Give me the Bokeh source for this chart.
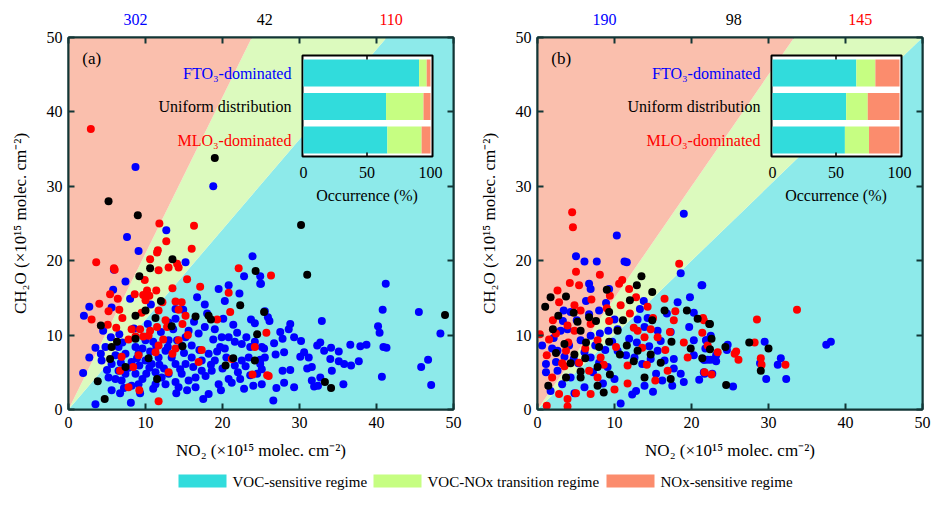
from bokeh.plotting import figure
from bokeh.models import Range1d, LinearAxis, FixedTicker
from bokeh.layouts import column, row
from bokeh.embed import file_html
from bokeh.resources import INLINE
from bokeh.core.properties import value

FONT = "Liberation Serif"

# ---------------- data : panel (a) ----------------
a_blue_x = [7.6, 9.1, 12.7, 5.9, 7.4, 5.8, 5.6, 2.7, 2.0, 8.0, 10.7, 15.2, 16.7, 17.7, 19.5, 20.8, 20.3, 22.2, 22.8, 23.9,
            24.9, 25.0, 25.5, 23.7, 21.4, 13.9, 14.9, 13.9, 13.0, 15.6, 16.9, 17.7, 18.8, 19.9, 20.8, 19.7, 20.3, 21.6, 22.5, 23.6,
            25.1, 25.5, 23.4, 22.5, 21.6, 20.8, 22.3, 23.6, 25.1, 24.0, 19.5, 18.6, 17.3, 16.5, 15.6, 14.7, 13.9, 13.0, 12.1, 11.3,
            10.8, 11.7, 12.6, 13.0, 14.1, 14.7, 16.0, 16.0, 17.3, 18.2, 19.0, 15.2, 13.9, 10.0, 9.1, 8.2, 7.4, 6.5, 6.1, 5.6,
            6.5, 7.4, 8.7, 9.1, 8.2, 6.9, 5.2, 4.3, 3.5, 4.8, 2.7, 1.9, 5.6, 6.7, 3.5, 8.1, 17.5, 18.2, 10.0, 11.0,
            4.5, 5.5, 6.6, 8.7, 9.2, 10.1, 11.3, 12.6, 14.3, 16.5, 24.2, 24.2, 24.9, 25.1, 8.7, 18.8,
            24.9, 41.2, 40.8, 45.5, 32.9, 40.2, 40.4, 48.3, 25.9, 26.1, 28.8, 28.6, 27.5, 27.8, 26.7, 29.3, 30.2, 32.7, 32.3, 33.2,
            34.1, 35.1, 36.6, 37.9, 38.7, 40.9, 41.3, 30.6, 31.2, 30.1, 28.0, 26.9, 25.4, 24.9, 34.0, 35.1, 35.8, 36.7, 37.7, 31.0,
            31.6, 34.2, 32.7, 31.6, 31.9, 32.4, 35.7, 29.3, 28.0, 27.0, 26.6, 27.8, 28.8, 40.7, 45.8, 46.7, 47.1,
            7.0, 7.8, 8.9, 9.6, 10.5, 11.8, 12.4, 13.4, 14.5, 15.0, 16.2, 17.0, 17.8, 18.5, 19.3, 20.0, 20.5, 21.2, 22.0, 23.0,
            24.5, 12.0, 13.6, 15.2, 16.3, 18.0, 19.0, 20.1, 21.9, 23.1, 9.6, 10.6, 11.4, 6.1, 7.2, 5.0, 4.2, 8.5, 10.3, 14.0,
            15.4, 19.8, 22.8, 6.8, 12.9, 11.0, 9.3]
a_blue_y = [23.2, 21.3, 24.1, 18.8, 17.2, 16.1, 13.7, 13.8, 12.6, 14.9, 14.1, 19.8, 15.1, 14.1, 16.2, 16.7, 14.6, 15.6, 17.9, 20.6,
            17.9, 16.9, 13.2, 12.1, 11.4, 13.5, 13.4, 12.2, 11.7, 10.6, 10.2, 11.1, 9.4, 9.7, 9.7, 8.4, 8.2, 9.1, 8.8, 8.4,
            8.4, 7.0, 7.0, 6.6, 5.9, 4.1, 4.1, 4.6, 3.4, 3.2, 3.4, 5.2, 5.2, 4.3, 3.9, 4.8, 3.7, 4.8, 4.3, 5.0,
            6.1, 7.0, 7.9, 9.3, 9.3, 8.6, 8.6, 7.0, 6.6, 7.5, 6.6, 6.1, 6.1, 6.6, 7.5, 6.4, 7.5, 8.4, 7.3, 6.1,
            5.2, 4.8, 4.8, 3.4, 3.2, 3.9, 4.3, 6.6, 8.3, 8.4, 7.0, 4.9, 2.6, 2.2, 0.7, 0.9, 1.4, 2.1, 9.3, 9.1,
            10.6, 9.7, 10.1, 8.4, 5.9, 4.8, 3.4, 3.4, 3.0, 3.0, 11.6, 9.1, 6.7, 5.4, 32.6, 30.0,
            16.9, 16.9, 13.4, 13.1, 11.9, 11.2, 10.3, 10.2, 12.4, 11.9, 11.5, 10.8, 10.4, 9.5, 8.9, 9.7, 9.2, 9.0, 8.6, 7.9,
            8.3, 7.8, 8.7, 8.5, 8.7, 8.4, 8.3, 7.7, 7.0, 7.1, 7.7, 7.4, 8.2, 6.1, 6.8, 6.5, 6.1, 5.9, 6.5, 5.5,
            5.7, 5.2, 4.3, 3.9, 3.1, 3.2, 3.4, 3.0, 3.6, 2.9, 1.2, 5.2, 5.3, 4.4, 5.7, 6.7, 3.3,
            9.0, 5.6, 6.9, 4.1, 5.6, 6.0, 5.5, 7.0, 5.4, 7.6, 5.7, 8.0, 4.5, 6.0, 7.8, 5.5, 7.0, 3.6, 5.0, 5.8,
            4.8, 10.4, 10.8, 9.7, 11.8, 12.9, 10.8, 12.2, 10.3, 9.7, 8.2, 7.8, 8.5, 4.1, 2.9, 5.3, 7.5, 10.9, 11.5, 2.2,
            2.6, 2.6, 2.8, 6.3, 8.4, 2.8, 2.2]
a_red_x = [2.9, 3.6, 11.8, 16.3, 12.7, 16.0, 11.5, 5.9, 10.6, 14.1, 22.1, 26.3, 6.0, 9.9, 11.6, 13.0, 11.7, 14.3, 15.4, 13.5,
           11.4, 10.2, 9.7, 8.6, 5.4, 6.4, 6.6, 5.2, 3.0, 5.1, 10.0, 11.7, 13.9, 14.7, 14.3, 15.2, 17.1, 12.6, 12.8, 11.5,
           10.6, 9.3, 8.2, 8.7, 7.8, 9.7, 10.4, 12.3, 14.3, 19.3, 20.8, 17.3, 13.9, 13.5, 11.7, 11.3, 9.1, 6.9, 6.7, 8.4,
           7.8, 9.2, 11.7, 13.0, 16.9, 21.2, 24.2, 23.9, 25.8, 21.0, 25.7, 26.0, 10.5, 9.5, 12.2, 14.8, 15.5, 4.0, 7.0, 6.2]
a_red_y = [37.7, 19.8, 25.0, 24.7, 22.6, 21.6, 21.1, 19.0, 20.2, 19.6, 19.0, 18.0, 18.8, 17.4, 21.4, 19.1, 18.7, 19.1, 17.5, 16.3,
           16.0, 16.0, 15.4, 15.5, 15.5, 14.9, 13.4, 13.2, 12.1, 11.4, 14.7, 13.3, 14.5, 14.4, 13.4, 12.6, 16.5, 12.0, 11.1, 11.1,
           10.6, 10.8, 10.8, 9.8, 9.4, 9.8, 9.9, 9.4, 9.3, 12.1, 15.7, 8.0, 8.2, 7.5, 8.6, 7.7, 7.3, 7.1, 5.2, 5.7,
           3.0, 2.6, 1.1, 5.0, 6.4, 6.8, 8.4, 4.7, 4.6, 13.1, 10.3, 4.5, 15.3, 13.0, 14.4, 11.5, 10.0, 14.2, 12.3, 11.0]
a_black_x = [19.0, 5.2, 9.0, 30.2, 31.0, 13.5, 10.6, 9.2, 12.0, 10.0, 8.7, 11.3, 16.5, 18.2, 18.5, 22.3, 24.3, 4.2, 13.4, 6.3,
             8.7, 5.6, 5.4, 7.4, 10.4, 11.5, 20.4, 21.4, 24.5, 24.2, 4.7, 25.4, 48.9, 33.3, 34.1, 3.8, 14.8]
a_black_y = [33.8, 28.0, 26.1, 24.8, 18.1, 20.2, 19.0, 17.9, 14.6, 13.3, 12.6, 12.3, 12.5, 12.6, 12.1, 14.0, 18.6, 11.3, 11.2, 9.1,
             9.5, 8.4, 6.8, 5.7, 6.9, 4.1, 5.9, 6.9, 10.1, 6.6, 1.4, 13.1, 12.7, 3.7, 2.9, 3.8, 8.5]

# ---------------- data : panel (b) ----------------
b_blue_x = [10.3, 5.0, 6.1, 7.7, 11.3, 11.6, 6.7, 6.9, 9.3, 18.6, 6.3, 8.9, 3.4, 4.3, 6.7, 8.0, 13.8, 14.3, 18.2, 19.8,
            21.3, 20.3, 3.0, 3.9, 0.6, 1.9, 2.6, 4.1, 5.6, 6.9, 9.2, 10.4, 13.0, 13.9, 15.6, 17.3, 19.7, 20.3, 21.9, 22.5,
            20.3, 21.6, 22.5, 22.7, 21.6, 19.0, 17.5, 16.2, 15.4, 13.9, 12.8, 12.3, 10.8, 10.0, 9.1, 8.0, 6.9, 6.1, 4.7, 3.5,
            2.4, 1.1, 1.1, 2.6, 4.3, 6.1, 1.7, 3.2, 10.4, 11.5, 12.6, 13.6, 14.7, 15.6, 16.5, 17.7, 17.7, 18.6, 8.1, 5.1,
            10.0, 19.0, 21.4, 21.9, 21.8, 21.7, 22.1, 23.2, 23.2, 24.7, 24.6, 25.4, 29.5, 31.6, 31.2, 28.9, 29.7, 32.3, 37.5, 38.1,
            21.7, 21.0, 7.5, 8.8, 5.3, 7.2, 11.9, 12.9, 14.5, 16.0, 2.1, 3.3, 9.7, 4.8, 8.5, 15.0, 13.3, 16.8]
b_blue_y = [23.4, 20.6, 19.9, 19.9, 19.9, 19.8, 16.9, 16.2, 16.2, 18.3, 14.6, 14.3, 13.3, 13.1, 12.8, 13.3, 14.6, 12.3, 14.4, 15.1,
            16.7, 13.0, 10.6, 10.8, 8.6, 8.2, 7.9, 8.6, 9.3, 9.9, 10.6, 10.8, 12.1, 11.1, 10.6, 10.4, 11.1, 9.3, 9.3, 9.9,
            7.3, 6.7, 6.7, 4.8, 5.0, 3.7, 3.2, 3.9, 4.8, 3.2, 2.5, 2.0, 0.8, 4.1, 5.7, 6.3, 7.0, 7.7, 6.8, 7.1,
            6.4, 6.1, 5.0, 5.2, 4.3, 3.0, 2.5, 3.4, 7.9, 7.3, 7.0, 6.1, 6.8, 7.9, 6.6, 6.8, 5.5, 4.8, 10.2, 12.0,
            12.1, 26.3, 16.7, 9.3, 8.2, 6.7, 6.7, 7.3, 6.5, 8.7, 8.0, 3.1, 9.1, 6.9, 6.0, 6.2, 4.1, 4.1, 8.7, 9.1,
            4.8, 4.0, 8.6, 8.0, 6.2, 5.0, 9.5, 9.0, 8.5, 9.2, 9.6, 11.9, 9.1, 2.2, 3.5, 2.4, 13.5, 12.9]
b_red_x = [4.5, 4.6, 18.4, 8.1, 5.0, 4.2, 5.4, 2.6, 2.8, 4.8, 5.6, 10.6, 11.0, 9.4, 11.9, 16.5, 17.7, 17.9, 21.6, 21.4,
           22.1, 0.3, 1.5, 2.4, 3.7, 3.2, 3.5, 1.9, 2.8, 3.9, 1.2, 3.9, 5.0, 6.9, 7.8, 6.7, 5.4, 8.2, 11.7, 10.2,
           13.0, 13.9, 14.3, 14.7, 15.6, 16.6, 16.9, 19.0, 15.3, 12.0, 9.3, 7.8, 6.9, 11.7, 3.9, 4.8, 21.5, 23.4, 25.6, 25.8,
           26.1, 28.2, 28.5, 33.7, 29.0, 29.1, 32.2, 21.7, 22.6, 9.0, 10.8, 12.5, 13.6, 15.0, 8.6, 10.0, 6.2, 2.0, 4.0, 1.2,
           7.0, 12.8, 17.2, 19.5, 14.2]
b_red_y = [26.5, 24.5, 19.6, 18.1, 18.5, 17.0, 16.7, 16.0, 14.4, 14.0, 13.3, 16.9, 17.4, 15.3, 16.2, 14.9, 12.0, 13.2, 12.0, 10.3,
           8.6, 10.1, 9.4, 10.2, 7.9, 6.2, 5.8, 4.3, 2.1, 1.4, 0.5, 0.4, 2.2, 2.1, 4.3, 5.2, 6.3, 7.0, 3.5, 8.4,
           10.6, 9.7, 13.8, 10.8, 9.7, 8.0, 5.2, 9.0, 3.9, 12.9, 11.9, 9.3, 11.5, 5.9, 11.3, 10.6, 12.3, 7.7, 7.5, 7.8,
           6.7, 9.0, 12.1, 13.4, 6.9, 6.0, 6.0, 5.0, 4.7, 13.6, 14.0, 11.0, 8.3, 12.3, 6.0, 2.7, 8.2, 12.0, 9.0, 7.3,
           14.8, 15.1, 10.4, 7.0, 6.0]
b_black_x = [13.5, 14.9, 12.9, 12.0, 9.0, 1.7, 1.0, 3.7, 4.7, 2.7, 5.2, 6.7, 7.6, 9.3, 10.4, 16.5, 19.4, 20.8, 22.4, 14.9,
             3.5, 4.8, 5.6, 2.4, 4.3, 5.6, 7.8, 9.3, 10.7, 11.6, 14.7, 17.4, 19.9, 21.4, 17.3, 16.0, 13.9, 7.8, 8.6, 5.6,
             3.7, 12.5, 22.3, 22.6, 22.4, 24.4, 27.5, 30.0, 29.0, 24.5, 6.3, 8.0, 2.0, 11.1, 13.0, 6.2, 9.4, 1.4]
b_black_y = [17.9, 15.8, 16.7, 14.7, 16.1, 15.1, 13.8, 15.2, 13.0, 12.6, 11.8, 12.4, 11.9, 13.1, 10.6, 13.3, 13.3, 12.2, 11.5, 12.0,
             8.8, 7.4, 10.6, 7.6, 6.2, 5.1, 5.7, 9.1, 7.4, 8.6, 7.4, 9.1, 8.2, 6.9, 4.1, 6.3, 4.3, 3.2, 2.3, 4.3,
             4.3, 6.5, 11.5, 9.5, 8.1, 8.4, 9.0, 8.2, 5.2, 3.3, 9.0, 8.4, 10.8, 12.0, 7.9, 6.9, 4.7, 3.2]

# counts shown above each panel (FTO3, uniform, MLO3)
a_counts = ["302", "42", "110"]
b_counts = ["190", "98", "145"]
count_x = [8.7, 25.5, 41.9]

# regime thresholds (CH2O/NO2 ratio lines)
a_k_nox, a_k_voc = 2.1, 1.21
b_k_nox, b_k_voc = 1.5, 1.0

# inset occurrence (%) : rows FTO3, Uniform, MLO3
inset_rows = ["FTO₃-dominated", "Uniform distribution", "MLO₃-dominated"]
inset_pos = [3, 2, 1]
a_voc = [91, 65, 66]
a_trans = [6, 29.5, 27]
a_nox = [3, 5.5, 7]
b_voc = [66, 58, 57]
b_trans = [15, 17, 19]
b_nox = [19, 25, 24]

legend_names = ["VOC-sensitive regime", "VOC-NOx transition regime", "NOx-sensitive regime"]

C_VOC_BG, C_TR_BG, C_NOX_BG = "#8DEAEA", "#DCFABE", "#FABFAD"
C_VOC, C_TR, C_NOX = "#31DCDC", "#C6FE82", "#FB8C6D"
C_BLUE, C_RED, C_BLACK = "#0000FF", "#FF0000", "#000000"
FRAME = "#123636"
LABEL_COLORS = [C_BLUE, C_BLACK, C_RED]

STRIP_H = 28
TOP_B = 9


def style_axis(ax, labels=True):
    ax.ticker = FixedTicker(ticks=[0, 10, 20, 30, 40, 50])
    ax.minor_tick_line_color = None
    ax.major_tick_in = 6
    ax.major_tick_out = 0
    ax.major_tick_line_width = 2
    ax.major_tick_line_color = FRAME
    ax.axis_line_color = FRAME
    ax.axis_line_width = 2
    ax.major_label_text_font = FONT
    if labels:
        ax.major_label_text_font_size = "16px"
        ax.major_label_text_color = "black"
    else:
        ax.major_label_text_font_size = "1px"
        ax.major_label_text_color = None
        ax.major_label_standoff = 0
    ax.axis_label_text_font = FONT
    ax.axis_label_text_font_style = "normal"
    ax.axis_label_text_font_size = "17px"
    ax.axis_label_text_color = "black"


def make_counts(counts):
    c = figure(width=469, height=STRIP_H, x_range=Range1d(0, 50), y_range=Range1d(STRIP_H, 0),
               output_backend="svg", toolbar_location=None,
               min_border_left=68, min_border_right=16, min_border_top=0, min_border_bottom=0)
    c.axis.visible = False
    c.grid.visible = False
    c.outline_line_color = None
    c.text(x=count_x, y=[18.5, 18.5, 18.5], text=counts, text_color=LABEL_COLORS, text_font=value(FONT),
           text_font_size="16px", text_align="center", text_baseline="middle")
    return c


def make_panel(tag, bx, by, rx, ry, kx, ky, k_nox, k_voc, voc, trans, nox):
    p = figure(width=469, height=372 + TOP_B + 56, x_range=Range1d(0, 50), y_range=Range1d(0, 50),
               output_backend="svg", toolbar_location=None,
               min_border_left=68, min_border_right=16, min_border_top=TOP_B, min_border_bottom=56)
    p.grid.visible = False
    p.outline_line_color = FRAME
    p.outline_line_width = 2
    p.background_fill_color = "white"

    # regime regions
    xn = 50.0 / k_nox
    xv = 50.0 / k_voc
    p.patch([0, 50, 50, xv], [0, 0, 50, 50], color=C_VOC_BG, line_color=None)
    p.patch([0, xv, xn], [0, 50, 50], color=C_TR_BG, line_color=None)
    p.patch([0, xn, 0], [0, 50, 50], color=C_NOX_BG, line_color=None)

    # points
    p.scatter(bx, by, size=8, color=C_BLUE, line_color=None)
    p.scatter(rx, ry, size=8, color=C_RED, line_color=None)
    p.scatter(kx, ky, size=8, color=C_BLACK, line_color=None)

    # axes
    style_axis(p.xaxis[0])
    style_axis(p.yaxis[0])
    p.xaxis[0].axis_label = "NO₂ (×10¹⁵ molec. cm⁻²)"
    p.yaxis[0].axis_label = "CH₂O (×10¹⁵ molec. cm⁻²)"
    p.xaxis[0].major_label_standoff = 7
    p.xaxis[0].axis_label_standoff = 10
    p.yaxis[0].major_label_standoff = 6
    p.yaxis[0].axis_label_standoff = 14
    top = LinearAxis()
    style_axis(top, labels=False)
    p.add_layout(top, "above")
    right = LinearAxis()
    style_axis(right, labels=False)
    p.add_layout(right, "right")

    # panel tag
    p.text([1.8], [47.2], text=[tag], text_font=value(FONT), text_font_size="17px",
           text_baseline="middle", text_align="left", text_color="black")

    # inset (own scales)
    p.extra_x_ranges = {"ix": Range1d(-185.04, 118.11)}
    p.extra_y_ranges = {"iy": Range1d(-7.044, 4.06)}
    kw = dict(x_range_name="ix", y_range_name="iy")
    p.quad(left=[-0.8], right=[101.6], bottom=[0.51], top=[3.52], fill_color="white",
           line_color="black", line_width=2, **kw)
    rights2 = [v + t for v, t in zip(voc, trans)]
    rights3 = [r + n for r, n in zip(rights2, nox)]
    p.hbar(y=inset_pos, left=[0, 0, 0], right=voc, height=0.8, color=C_VOC, line_color=None, **kw)
    p.hbar(y=inset_pos, left=voc, right=rights2, height=0.8, color=C_TR, line_color=None, **kw)
    p.hbar(y=inset_pos, left=rights2, right=rights3, height=0.8, color=C_NOX, line_color=None, **kw)
    # inset ticks
    p.segment(x0=[50, 50], y0=[3.52, 0.51], x1=[50, 50], y1=[3.40, 0.63], line_color="black",
              line_width=1.5, **kw)
    p.text(x=[0, 50, 100], y=[0.03, 0.03, 0.03], text=["0", "50", "100"], text_font=value(FONT),
           text_font_size="16px", text_align="center", text_baseline="middle", text_color="black", **kw)
    p.text(x=[50], y=[-0.66], text=["Occurrence (%)"], text_font=value(FONT),
           text_font_size="16px", text_align="center", text_baseline="middle", text_color="black", **kw)
    p.text(x=[-9.5] * 3, y=inset_pos, text=inset_rows, text_color=LABEL_COLORS, text_font=value(FONT),
           text_font_size="16px", text_align="right", text_baseline="middle", **kw)
    return p


ca = make_counts(a_counts)
cb = make_counts(b_counts)
pa = make_panel("(a)", a_blue_x, a_blue_y, a_red_x, a_red_y, a_black_x, a_black_y,
                a_k_nox, a_k_voc, a_voc, a_trans, a_nox)
pb = make_panel("(b)", b_blue_x, b_blue_y, b_red_x, b_red_y, b_black_x, b_black_y,
                b_k_nox, b_k_voc, b_voc, b_trans, b_nox)

# legend strip
LEG_H = 507 - STRIP_H - (372 + TOP_B + 56)
lg = figure(width=938, height=LEG_H, x_range=Range1d(0, 938), y_range=Range1d(LEG_H, 0),
            output_backend="svg", toolbar_location=None, min_border=0)
lg.axis.visible = False
lg.grid.visible = False
lg.outline_line_color = None
patch_left = [178, 373, 606]
lg.quad(left=patch_left, right=[p_ + 48 for p_ in patch_left], top=[9, 9, 9], bottom=[22, 22, 22],
        color=[C_VOC, C_TR, C_NOX], line_color=None)
lg.text(x=[p_ + 54 for p_ in patch_left], y=[16, 16, 16], text=legend_names, text_font=value(FONT),
        text_font_size="15px", text_baseline="middle", text_align="left", text_color="black")

layout = column(row(ca, cb), row(pa, pb), lg)
open("out.html", "w").write(file_html(layout, INLINE))
